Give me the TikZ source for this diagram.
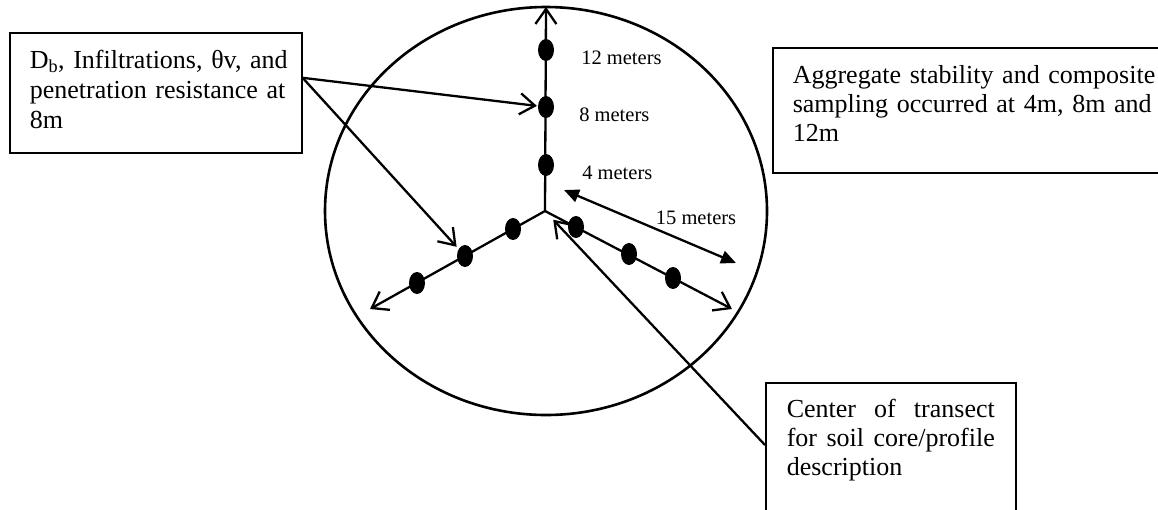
\documentclass[tikz,border=0pt]{standalone}
\usepackage{fontspec}
\setmainfont{Liberation Serif}
\usetikzlibrary{arrows.meta,shapes.geometric,positioning}
\def\boxfont{\fontsize{26}{30}\selectfont}
\def\labfont{\fontsize{20.5}{24}\selectfont}

\begin{document}
\begin{tikzpicture}[x=1pt, y=-1pt, line width=2.3pt, node distance=24pt,
  dot/.style={ellipse, fill, inner sep=0pt, minimum width=16pt, minimum height=22pt},
  textbox/.style={rectangle, draw, line width=1.6pt, anchor=north west, inner xsep=20pt, inner ysep=0pt, align=left, text height=36pt, font=\boxfont},
  barb/.style={-{Straight Barb[length=15pt,width=21pt]}},
  meters/.style={font=\labfont, inner sep=0pt}]

  \useasboundingbox (0,0) rectangle (1158,509);
  \clip (0,0) rectangle (1158,509);

  % plot boundary and transect centre
  \node[ellipse, draw, line width=2.6pt, minimum width=442pt, minimum height=408pt, inner sep=0pt] (plot) at (546,211) {};
  \node[coordinate] (ctr) at (545,211) {};
  \node[coordinate] (topend) at (546,7) {};
  \node[coordinate] (leftend) at (370,309) {};
  \node[coordinate] (rightend) at (732,309) {};

  \draw[barb] (ctr) -- (topend);
  \draw[barb] (ctr) -- (leftend);
  \draw[barb] (ctr) -- (rightend);

  % sampling points
  \node[dot] (v4) at (546,165) {};
  \node[dot] (v8) at (546,107) {};
  \node[dot] (v12) at (546,50) {};
  \node[dot] (l4) at (513,229) {};
  \node[dot] (l8) at (465,256) {};
  \node[dot] (l12) at (417,283) {};
  \node[dot] (r4) at (576,227) {};
  \node[dot] (r8) at (629,254) {};
  \node[dot] (r12) at (673,278) {};

  \node[meters, right=25pt of v12, yshift=-8pt] (lab12) {12 meters};
  \node[meters, right=23pt of v8, yshift=-8pt] (lab8) {8 meters};
  \node[meters, right=26pt of v4, yshift=-8pt] (lab4) {4 meters};

  % 15 m radius
  \node[coordinate] (m15a) at (564,190) {};
  \node[coordinate] (m15b) at (736,263) {};
  \draw[{Triangle[length=15pt,width=13pt]}-{Triangle[length=15pt,width=13pt]}] (m15a) -- (m15b);
  \node[meters, anchor=base] (lab15) at (696,224) {15 meters};

  % text boxes
  \node[textbox, text width=252pt, text depth=84pt] (dbbox) at (9,32)
    {\mbox{D\textsubscript{b}, Infiltrations, θv, and}\\\mbox{penetration resistance at}\\8m};
  \node[textbox, text width=380pt, text depth=89pt, font=\fontsize{26}{29}\selectfont] (aggbox) at (772,47)
    {Aggregate stability and composite\\sampling occurred at 4m, 8m and\\12m};
  \node[textbox, inner xsep=21pt, text width=208pt, text height=35pt, text depth=200pt, font=\fontsize{26}{29}\selectfont] (ctrbox) at (765,382)
    {Center\hfill of\hfill transect\\for\hfill soil\hfill core/profile\\description};

  \draw[barb] ([yshift=15pt]dbbox.east) -- (v8);
  \draw[barb, shorten >=2pt] ([yshift=15pt]dbbox.east) -- (l8);
  \draw[barb, shorten >=12pt] ([yshift=-63pt]ctrbox.north west) -- (ctr);
\end{tikzpicture}
\end{document}
